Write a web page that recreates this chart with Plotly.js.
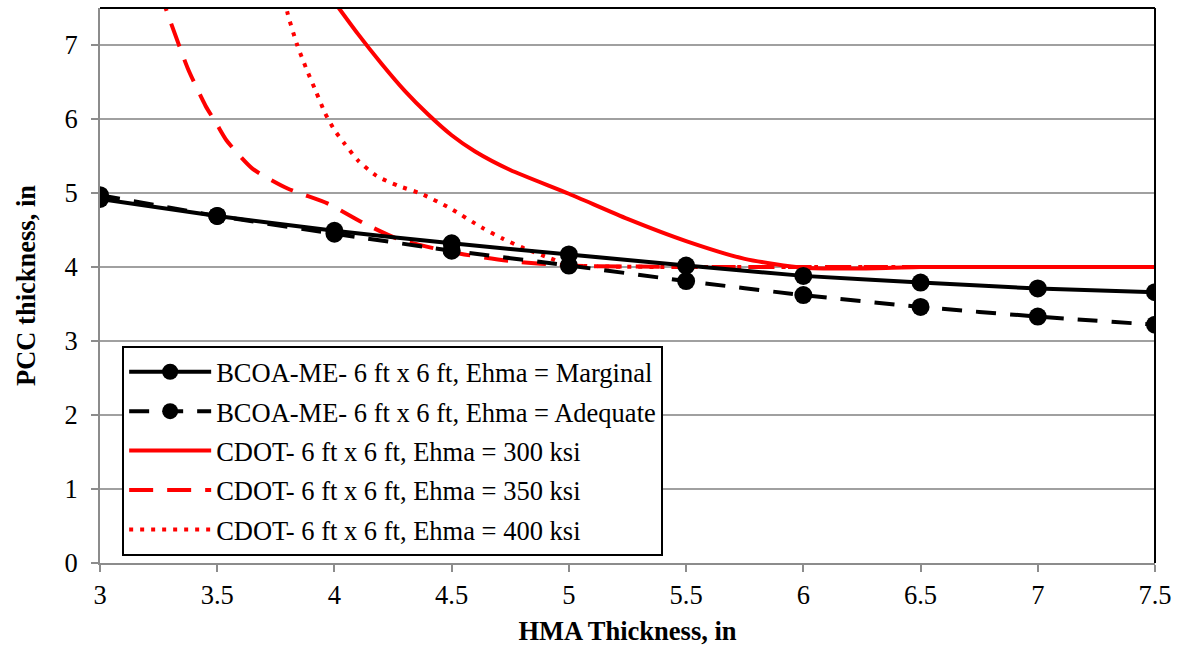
<!DOCTYPE html>
<html>
<head>
<meta charset="utf-8">
<script src="https://cdn.plot.ly/plotly-3.0.1.min.js"></script>
<style>html,body{margin:0;padding:0;background:#fff;}#chart{width:1177px;height:649px;}</style>
</head>
<body>
<div id="chart"></div>
<script>
// BCOA-ME series
var bcoaX = [3, 3.5, 4, 4.5, 5, 5.5, 6, 6.5, 7, 7.5];
var marginalY = [4.92, 4.69, 4.49, 4.32, 4.17, 4.02, 3.88, 3.79, 3.71, 3.66];
var adequateY = [4.97, 4.69, 4.45, 4.22, 4.02, 3.81, 3.62, 3.46, 3.33, 3.22];

// CDOT series
var cdot300X = [3.95, 4.0, 4.1, 4.2, 4.3, 4.4, 4.5, 4.6, 4.75, 5.0, 5.25, 5.5, 5.75, 6.0, 6.25, 6.5, 7.0, 7.5];
var cdot300Y = [7.8, 7.58, 7.15, 6.75, 6.38, 6.06, 5.78, 5.56, 5.31, 4.99, 4.65, 4.35, 4.11, 3.99, 3.98, 4.0, 4.0, 4.0];
var cdot350X = [3.25, 3.3, 3.375, 3.45, 3.5, 3.54, 3.65, 3.8, 3.97, 4.12, 4.27, 4.5, 4.75, 5.0, 5.5, 6.0, 6.5, 7.0, 7.5];
var cdot350Y = [7.77, 7.32, 6.68, 6.18, 5.92, 5.71, 5.33, 5.06, 4.86, 4.60, 4.38, 4.2, 4.08, 4.02, 4.0, 4.0, 4.0, 4.0, 4.0];
var cdot400X = [3.78, 3.8, 3.84, 3.88, 3.92, 3.96, 4.0, 4.04, 4.1, 4.18, 4.27, 4.37, 4.49, 4.63, 4.72, 4.81, 4.91, 5.0, 5.5, 6.0, 6.5, 7.0, 7.5];
var cdot400Y = [7.75, 7.43, 7.01, 6.68, 6.38, 6.08, 5.85, 5.68, 5.44, 5.23, 5.10, 4.99, 4.80, 4.53, 4.38, 4.25, 4.13, 4.03, 4.0, 4.0, 4.0, 4.0, 4.0];

var names = [
  "BCOA-ME- 6 ft x 6 ft, Ehma = Marginal",
  "BCOA-ME- 6 ft x 6 ft, Ehma = Adequate",
  "CDOT- 6 ft x 6 ft, Ehma = 300 ksi",
  "CDOT- 6 ft x 6 ft, Ehma = 350 ksi",
  "CDOT- 6 ft x 6 ft, Ehma = 400 ksi"
];
var xTicks = [3, 3.5, 4, 4.5, 5, 5.5, 6, 6.5, 7, 7.5];
var xTickText = ["3", "3.5", "4", "4.5", "5", "5.5", "6", "6.5", "7", "7.5"];
var yTicks = [0, 1, 2, 3, 4, 5, 6, 7];

var FONT = "Liberation Serif, Times New Roman, serif";
var FS = 26.5;

var traces = [
  {x: cdot400X, y: cdot400Y, name: names[4], mode: "lines", legendrank: 5, legendgroup: "e",
   line: {color: "#FF0000", width: 4, dash: "4px,7px", shape: "spline", smoothing: 0.6}},
  {x: cdot350X, y: cdot350Y, name: names[3], mode: "lines", legendrank: 4, legendgroup: "d",
   line: {color: "#FF0000", width: 4, dash: "24px,14px", shape: "spline", smoothing: 0.6}},
  {x: cdot300X, y: cdot300Y, name: names[2], mode: "lines", legendrank: 3, legendgroup: "c",
   line: {color: "#FF0000", width: 4, shape: "spline", smoothing: 0.6}},
  {x: bcoaX, y: adequateY, name: names[1], mode: "lines+markers", legendrank: 2, legendgroup: "b",
   line: {color: "#000000", width: 4, dash: "20px,14px", shape: "spline", smoothing: 0.5},
   marker: {color: "#000000", size: 18}},
  {x: bcoaX, y: marginalY, name: names[0], mode: "lines+markers", legendrank: 1, legendgroup: "a",
   line: {color: "#000000", width: 4, shape: "spline", smoothing: 0.5},
   marker: {color: "#000000", size: 18}}
];

var layout = {
  width: 1177, height: 649,
  margin: {l: 100, r: 22, t: 8, b: 86},
  paper_bgcolor: "#ffffff", plot_bgcolor: "#ffffff",
  font: {family: FONT, size: FS, color: "#000000"},
  showlegend: true,
  legend: {
    x: 0.021, y: 0.391, xanchor: "left", yanchor: "top",
    bgcolor: "#ffffff", bordercolor: "#000000", borderwidth: 2,
    font: {family: FONT, size: FS, color: "#000000"},
    traceorder: "grouped", tracegroupgap: 2, itemwidth: 82
  },
  xaxis: {
    range: [3, 7.5], tickvals: xTicks, ticktext: xTickText,
    showgrid: false, zeroline: false,
    showline: true, linecolor: "#8c8c8c", linewidth: 2,
    ticks: "outside", ticklen: 7, tickwidth: 2, tickcolor: "#8c8c8c",
    tickfont: {family: FONT, size: FS},
    title: {text: "<b>HMA Thickness, in</b>", font: {family: FONT, size: FS}, standoff: 13}
  },
  yaxis: {
    range: [0, 7.5], tickvals: yTicks,
    showgrid: true, gridcolor: "#a0a0a0", gridwidth: 2,
    zeroline: false,
    showline: true, linecolor: "#8c8c8c", linewidth: 2,
    ticks: "outside", ticklen: 7, tickwidth: 2, tickcolor: "#8c8c8c",
    ticklabelstandoff: 8,
    tickfont: {family: FONT, size: FS},
    title: {text: "<b>PCC thickness, in</b>", font: {family: FONT, size: FS}, standoff: 21}
  },
  shapes: [
    {type: "line", xref: "paper", yref: "paper", x0: 0, x1: 1, y0: 1, y1: 1, line: {color: "#000000", width: 2}},
    {type: "line", xref: "paper", yref: "paper", x0: 1, x1: 1, y0: 0, y1: 1, line: {color: "#000000", width: 2}}
  ]
};

Plotly.newPlot("chart", traces, layout, {displayModeBar: false, staticPlot: true});
</script>
</body>
</html>
